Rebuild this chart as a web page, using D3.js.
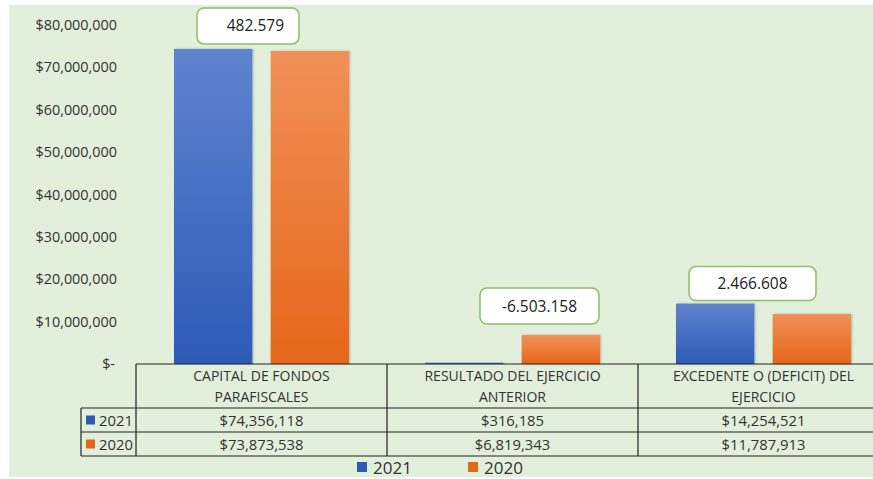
<!DOCTYPE html>
<html>
<head>
<meta charset="utf-8">
<script src="https://cdn.jsdelivr.net/npm/d3@7/dist/d3.min.js"></script>
<style>
  body { margin: 0; background: #fff; }
  svg { display: block; font-family: 'Open Sans', sans-serif; }
</style>
</head>
<body>
<svg id="chart" width="873" height="479"></svg>
<script>
// categories and values
var categories = ['CAPITAL DE FONDOS PARAFISCALES', 'RESULTADO DEL EJERCICIO ANTERIOR', 'EXCEDENTE O (DEFICIT) DEL EJERCICIO'];
var categoryLines = [
  ['CAPITAL DE FONDOS', 'PARAFISCALES'],
  ['RESULTADO DEL EJERCICIO', 'ANTERIOR'],
  ['EXCEDENTE O (DEFICIT) DEL', 'EJERCICIO']
];
var seriesNames = ['2021', '2020'];
var values2021 = [74356118, 316185, 14254521];
var values2020 = [73873538, 6819343, 11787913];
var diffLabels = ['482.579', '-6.503.158', '2.466.608'];
var yTicks = [0, 10000000, 20000000, 30000000, 40000000, 50000000, 60000000, 70000000, 80000000];

var colors = { '2021': ['#5f83cf', '#2d5ab6'], '2020': ['#f19058', '#e5671a'] };

var svg = d3.select('#chart');
var W = 873, H = 479;

svg.append('rect').attr('x', 9).attr('y', 5).attr('width', W - 9).attr('height', 472).attr('fill', '#e2efda');

var defs = svg.append('defs');
seriesNames.forEach(function (s) {
  var g = defs.append('linearGradient').attr('id', 'grad' + s)
    .attr('x1', 0).attr('y1', 0).attr('x2', 0).attr('y2', 1);
  g.append('stop').attr('offset', '0%').attr('stop-color', colors[s][0]);
  g.append('stop').attr('offset', '100%').attr('stop-color', colors[s][1]);
});
var shadow = defs.append('filter').attr('id', 'shadow').attr('x', '-10%').attr('y', '-10%').attr('width', '130%').attr('height', '130%');
shadow.append('feDropShadow').attr('dx', 1).attr('dy', 0).attr('stdDeviation', 1).attr('flood-color', '#000').attr('flood-opacity', 0.25);

var x0 = d3.scaleBand().domain(categories).range([136, 889]);
var x1 = d3.scaleBand().domain(seriesNames).range([38, 213]).paddingInner(0.19);
var y = d3.scaleLinear().domain([0, 80000000]).range([364, 25]);

var yFmt = function (d) { return d === 0 ? '$-' : d3.format('$,')(d); };
var yAxis = d3.axisLeft(y).tickValues(yTicks).tickFormat(yFmt).tickSize(0).tickPadding(0);
var ya = svg.append('g').attr('transform', 'translate(117,0)').call(yAxis);
ya.select('.domain').remove();
ya.selectAll('text').attr('font-size', 14.4).attr('fill', '#333').attr('font-family', "'Open Sans', sans-serif");
ya.selectAll('.tick').filter(function (d) { return d === 0; }).select('text').attr('dx', -2);

var rows = categories.map(function (c, i) { return { cat: c, '2021': values2021[i], '2020': values2020[i] }; });

var groups = svg.selectAll('g.grp').data(rows).enter().append('g')
  .attr('class', 'grp')
  .attr('transform', function (d) { return 'translate(' + x0(d.cat) + ',0)'; });

groups.selectAll('rect').data(function (d) {
  return seriesNames.map(function (s) { return { s: s, v: d[s] }; });
}).enter().append('rect')
  .attr('x', function (d) { return x1(d.s); })
  .attr('y', function (d) { return y(d.v); })
  .attr('width', x1.bandwidth())
  .attr('height', function (d) { return y(0) - y(d.v); })
  .attr('fill', function (d) { return 'url(#grad' + d.s + ')'; })
  .attr('filter', 'url(#shadow)');

// callout boxes (layout only)
var boxLayout = [
  { dx: 61, w: 102, h: 36, gap: 5, ref: '2021', anchor: 'end', tx: 87 },
  { dx: 93, w: 119, h: 36, gap: 11, ref: '2020', anchor: 'middle', tx: 59.5 },
  { dx: 51, w: 127, h: 34, gap: 3, ref: '2021', anchor: 'middle', tx: 63.5 }
];
rows.forEach(function (r, i) {
  var b = boxLayout[i];
  var by = y(r[b.ref]) - b.gap - b.h;
  var bx = x0(r.cat) + b.dx;
  svg.append('rect').attr('x', bx).attr('y', by).attr('width', b.w).attr('height', b.h)
    .attr('rx', 7).attr('fill', '#fff').attr('stroke', '#8cc06a').attr('stroke-width', 1.5);
  svg.append('text').attr('x', bx + b.tx).attr('y', by + b.h / 2 + 5.5)
    .attr('text-anchor', b.anchor).attr('font-size', 15.5).attr('fill', '#222').text(diffLabels[i]);
});

// data table
var tTop = 364, tHead = 408, tRow1 = 432, tRow2 = 456, tLeft = 81, tRight = 873;
var line = function (xa, ya1, xb, yb) {
  svg.append('line').attr('x1', xa).attr('y1', ya1).attr('x2', xb).attr('y2', yb)
    .attr('stroke', '#222').attr('stroke-width', 1.2);
};
line(136, tTop, tRight, tTop);
[tHead, tRow1, tRow2].forEach(function (yy) { line(tLeft, yy, tRight, yy); });
line(tLeft, tHead, tLeft, tRow2);
categories.forEach(function (c) { line(x0(c), tTop, x0(c), tRow2); });

categoryLines.forEach(function (ls, i) {
  var cx = x0(categories[i]) + x0.bandwidth() / 2;
  ls.forEach(function (t, j) {
    svg.append('text').attr('x', cx).attr('y', 381 + j * 21).attr('text-anchor', 'middle')
      .attr('font-size', 14).attr('fill', '#333').text(t);
  });
});
var money = d3.format('$,');
[values2021, values2020].forEach(function (vals, k) {
  var yy = (k === 0 ? tHead : tRow1) + 17.5;
  vals.forEach(function (v, i) {
    svg.append('text').attr('x', x0(categories[i]) + x0.bandwidth() / 2).attr('y', yy)
      .attr('text-anchor', 'middle').attr('font-size', 14.8).attr('fill', '#333').text(money(v));
  });
  svg.append('rect').attr('x', 86).attr('y', yy - 10).attr('width', 9).attr('height', 9).attr('fill', colors[seriesNames[k]][1]);
  svg.append('text').attr('x', 99).attr('y', yy).attr('font-size', 14.8).attr('fill', '#333').text(seriesNames[k]);
});

// legend
var legend = svg.append('g').attr('transform', 'translate(357,467)');
seriesNames.forEach(function (s, i) {
  var g = legend.append('g').attr('transform', 'translate(' + (i * 111) + ',0)');
  g.append('rect').attr('x', 0).attr('y', -5).attr('width', 10).attr('height', 10).attr('fill', colors[s][1]);
  g.append('text').attr('x', 16).attr('y', 7).attr('font-size', 17).attr('fill', '#333').text(s);
});
</script>
</body>
</html>
